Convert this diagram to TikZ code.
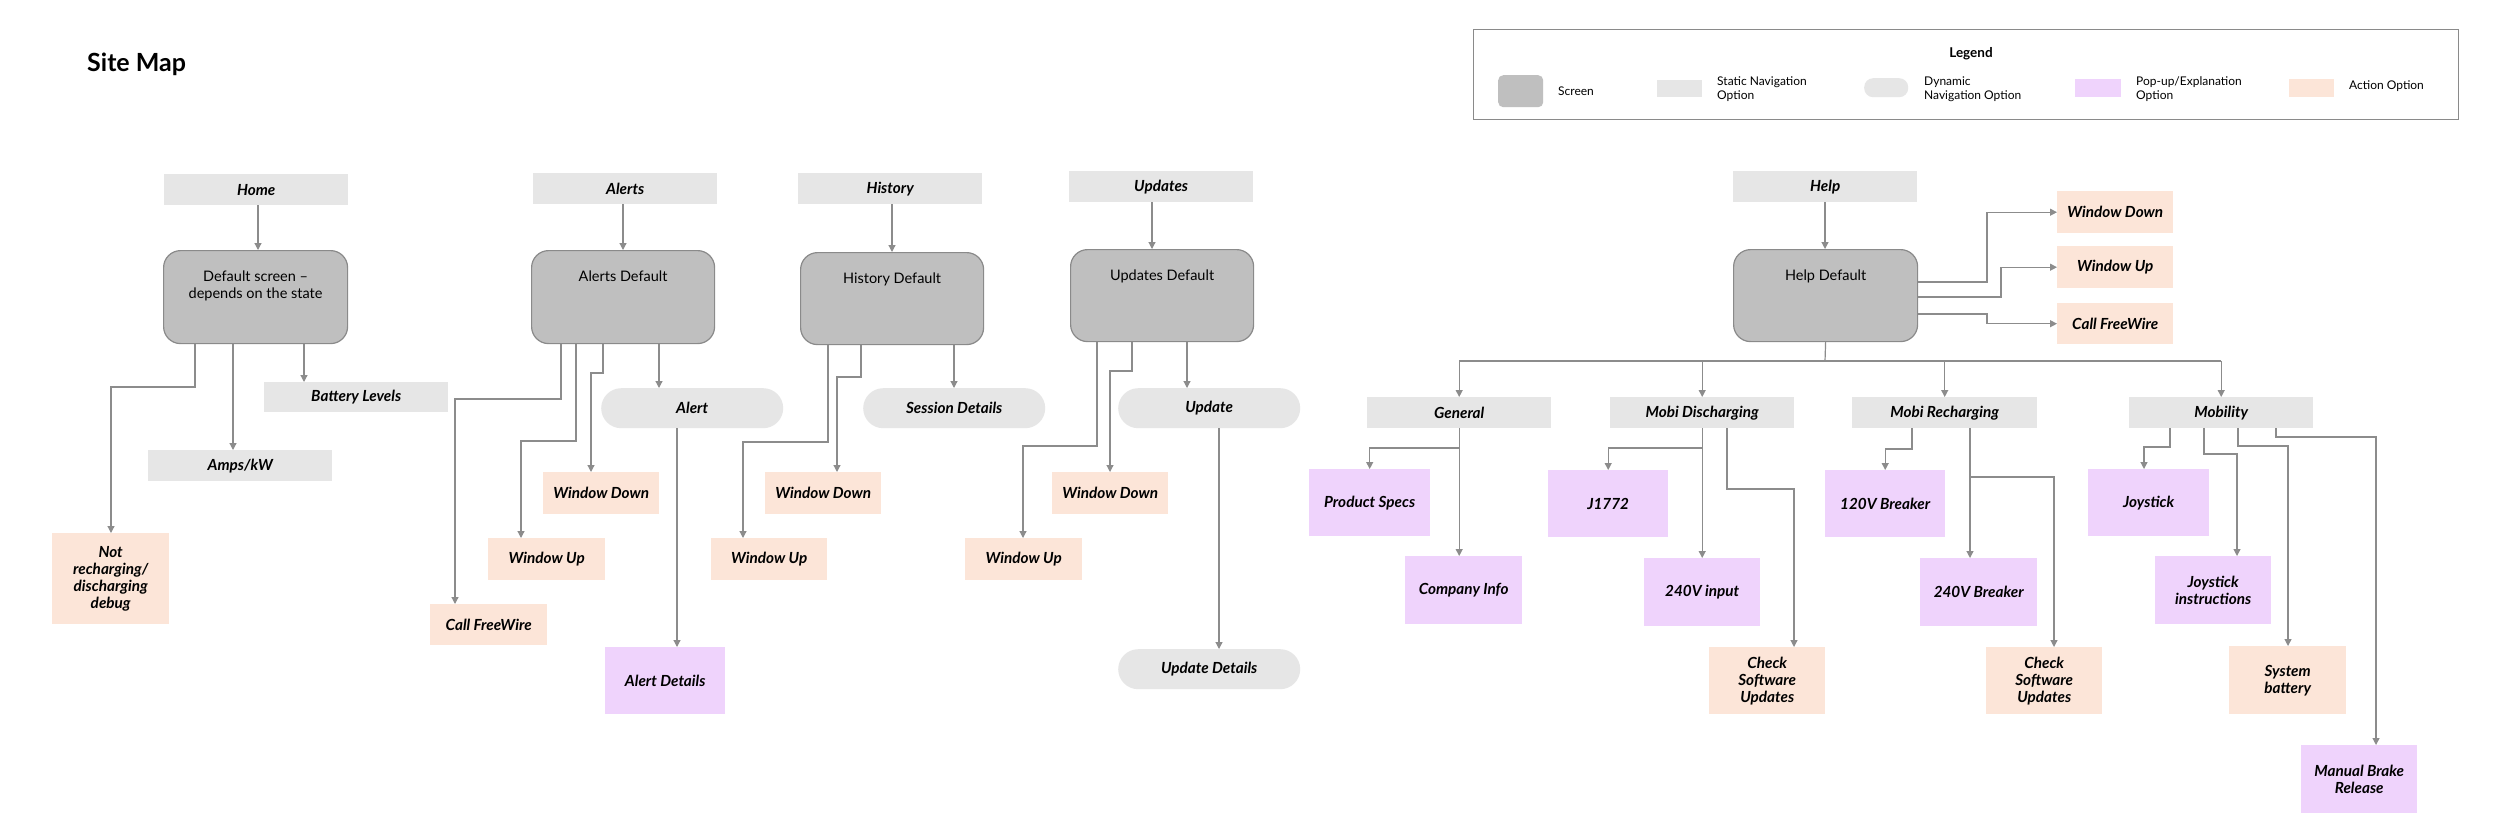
\documentclass[tikz,border=0pt]{standalone}
\usepackage{fontspec}
\setmainfont{Lato}
\usetikzlibrary{arrows.meta,calc}
\definecolor{scrfill}{HTML}{BFBFBF}
\definecolor{scrdraw}{HTML}{8A8A8A}
\definecolor{navfill}{HTML}{E6E6E6}
\definecolor{popfill}{HTML}{EFD3FC}
\definecolor{actfill}{HTML}{FCE5D8}
\definecolor{linec}{HTML}{8C8C8C}
\tikzset{
 sz/.style 2 args={minimum width=#1pt, minimum height=#2pt},
 basebox/.style={anchor=north west, inner sep=0pt, align=center, font=\fontsize{15.3}{17}\selectfont\bfseries\itshape},
 nav/.style={basebox, fill=navfill},
 dyn/.style={basebox, fill=navfill, rounded corners=20pt},
 pop/.style={basebox, fill=popfill},
 act/.style={basebox, fill=actfill},
 screen/.style={anchor=north west, inner sep=0pt, fill=scrfill, draw=scrdraw, line width=1.2pt, rounded corners=17pt},
 scrlab/.style={anchor=north, yshift=-21pt, inner sep=0pt, align=center, font=\fontsize{14.5}{16.5}\selectfont},
 conn/.style={draw=linec, line width=1.2pt, -{Triangle[length=7pt,width=7pt]}},
 wire/.style={draw=linec, line width=1.2pt},
 lgtext/.style={anchor=west, inner sep=0pt, align=left, font=\fontsize{12}{14.5}\selectfont},
}
\begin{document}
\begin{tikzpicture}[x=1pt,y=-1pt]
\useasboundingbox[fill=white] (0,0) rectangle (2500,833);

% title
\node[anchor=base west, inner sep=0pt, font=\fontsize{25}{28}\selectfont\bfseries] (title) at (87,71) {Site Map};

% legend
\node[anchor=north west, inner sep=0pt, sz={985}{90}, draw=scrdraw, line width=1.3pt] (legend) at (1473,29) {};
\node[inner sep=0pt, font=\fontsize{13.5}{15}\selectfont\bfseries] (lgtitle) at (1971,54) {Legend};
\node[anchor=north west, inner sep=0pt, sz={45}{32}, fill=scrfill, rounded corners=5pt] (lgscr) at (1498,75) {};
\node[lgtext] (lgscrt) at (1558,91) {Screen};
\node[anchor=north west, inner sep=0pt, sz={45}{17}, fill=navfill] (lgnav) at (1657,80) {};
\node[lgtext] (lgnavt) at (1717,89) {Static Navigation\\Option};
\node[anchor=north west, inner sep=0pt, sz={44}{19}, fill=navfill, rounded corners=9pt] (lgdyn) at (1864,78) {};
\node[lgtext] (lgdynt) at (1924,89) {Dynamic\\Navigation Option};
\node[anchor=north west, inner sep=0pt, sz={46}{18}, fill=popfill] (lgpop) at (2075,79) {};
\node[lgtext] (lgpopt) at (2136,89) {Pop-up/Explanation\\Option};
\node[anchor=north west, inner sep=0pt, sz={45}{18}, fill=actfill] (lgact) at (2289,79) {};
\node[lgtext] (lgactt) at (2349,86) {Action Option};

% ---------------- Home ----------------
\node[nav, sz={184}{31}] (home) at (164,174) {Home};
\node[screen, sz={184}{93}, label={[scrlab]north:Default screen --\\depends on the state}] (homeDef) at (163,250) {};
\node[nav, sz={184}{30}] (batt) at (264,382) {Battery Levels};
\node[nav, sz={184}{31}] (amps) at (148,450) {Amps/kW};
\node[act, sz={117}{91}] (notre) at (52,533) {Not\\recharging/\\discharging\\debug};

\draw[conn] (home.south -| 258,0) -- (homeDef.north -| 258,0);
\draw[conn] (homeDef.south -| 195,0) |- (111,387) -- (notre.north -| 111,0);
\draw[conn] (homeDef.south -| 233,0) -- (amps.north -| 233,0);
\draw[conn] (homeDef.south -| 304,0) -- (batt.north -| 304,0);

% ---------------- Alerts ----------------
\node[nav, sz={184}{31}] (alerts) at (533,173) {Alerts};
\node[screen, sz={183}{93}, label={[scrlab]north:Alerts Default}] (alertsDef) at (531,250) {};
\node[dyn, sz={182}{40}] (alert) at (601,388) {Alert};
\node[act, sz={116}{42}] (aWD) at (543,472) {Window Down};
\node[act, sz={117}{42}] (aWU) at (488,538) {Window Up};
\node[act, sz={117}{41}] (aCF) at (430,604) {Call FreeWire};
\node[pop, sz={120}{67}] (aDet) at (605,647) {Alert Details};

\draw[conn] (alerts.south -| 623,0) -- (alertsDef.north -| 623,0);
\draw[conn] (alertsDef.south -| 561,0) |- (455,399) -- (aCF.north -| 455,0);
\draw[conn] (alertsDef.south -| 576,0) |- (521,441) -- (aWU.north -| 521,0);
\draw[conn] (alertsDef.south -| 603,0) |- (591,373) -- (aWD.north -| 591,0);
\draw[conn] (alertsDef.south -| 659,0) -- (alert.north -| 659,0);
\draw[conn] (alert.south -| 677,0) -- (aDet.north -| 677,0);

% ---------------- History ----------------
\node[nav, sz={184}{31}] (hist) at (798,173) {History};
\node[screen, sz={183}{92}, label={[scrlab]north:History Default}] (histDef) at (800,252) {};
\node[dyn, sz={182}{40}] (sess) at (863,388) {Session Details};
\node[act, sz={116}{42}] (hWD) at (765,472) {Window Down};
\node[act, sz={116}{42}] (hWU) at (711,538) {Window Up};

\draw[conn] (hist.south -| 892,0) -- (histDef.north -| 892,0);
\draw[conn] (histDef.south -| 828,0) |- (743,442) -- (hWU.north -| 743,0);
\draw[conn] (histDef.south -| 861,0) |- (837,377) -- (hWD.north -| 837,0);
\draw[conn] (histDef.south -| 954,0) -- (sess.north -| 954,0);

% ---------------- Updates ----------------
\node[nav, sz={184}{31}] (upd) at (1069,171) {Updates};
\node[screen, sz={183}{92}, label={[scrlab]north:Updates Default}] (updDef) at (1070,249) {};
\node[dyn, sz={182}{40}] (update) at (1118,388) {Update};
\node[dyn, sz={182}{40}] (updDet) at (1118,649) {Update Details};
\node[act, sz={116}{42}] (uWD) at (1052,472) {Window Down};
\node[act, sz={117}{42}] (uWU) at (965,538) {Window Up};

\draw[conn] (upd.south -| 1152,0) -- (updDef.north -| 1152,0);
\draw[conn] (updDef.south -| 1097,0) |- (1023,446) -- (uWU.north -| 1023,0);
\draw[conn] (updDef.south -| 1132,0) |- (1110,371) -- (uWD.north -| 1110,0);
\draw[conn] (updDef.south -| 1187,0) -- (update.north -| 1187,0);
\draw[conn] (update.south -| 1219,0) -- (updDet.north -| 1219,0);

% ---------------- Help ----------------
\node[nav, sz={184}{31}] (help) at (1733,171) {Help};
\node[screen, sz={184}{92}, label={[scrlab]north:Help Default}] (helpDef) at (1733,249) {};
\node[act, sz={116}{42}] (hpWD) at (2057,191) {Window Down};
\node[act, sz={116}{42}] (hpWU) at (2057,246) {Window Up};
\node[act, sz={116}{41}] (hpCF) at (2057,303) {Call FreeWire};

\draw[conn] (help.south -| 1825,0) -- (helpDef.north -| 1825,0);
\draw[conn] (helpDef.east |- 0,282) -- (1987,282) |- (hpWD);
\draw[conn] (helpDef.east |- 0,297) -- (2001,297) |- (hpWU);
\draw[conn] (helpDef.east |- 0,314) -- (1987,314) |- (hpCF);

\node[nav, sz={184}{31}] (gen) at (1367,397) {General};
\node[nav, sz={184}{31}] (mdis) at (1610,397) {Mobi Discharging};
\node[nav, sz={185}{31}] (mrec) at (1852,397) {Mobi Recharging};
\node[nav, sz={184}{31}] (mob) at (2129,397) {Mobility};

\coordinate (bus) at (1825,361);
\draw[wire] (helpDef.south) -- (bus);
\draw[wire] (bus -| gen.north) -- (bus -| mob.north);
\draw[conn] (bus -| gen.north) -- (gen.north);
\draw[conn] (bus -| mdis.north) -- (mdis.north);
\draw[conn] (bus -| mrec.north) -- (mrec.north);
\draw[conn] (bus -| mob.north) -- (mob.north);

\node[pop, sz={121}{67}] (pspec) at (1309,469) {Product Specs};
\node[pop, sz={117}{68}] (cinfo) at (1405,556) {Company Info};
\node[pop, sz={120}{67}] (j1772) at (1548,470) {J1772};
\node[pop, sz={116}{68}] (v240in) at (1644,558) {240V input};
\node[act, sz={116}{67}] (csu1) at (1709,647) {Check\\Software\\Updates};
\node[pop, sz={120}{67}] (b120) at (1825,470) {120V Breaker};
\node[pop, sz={117}{68}] (b240) at (1920,558) {240V Breaker};
\node[act, sz={116}{67}] (csu2) at (1986,647) {Check\\Software\\Updates};
\node[pop, sz={121}{67}] (joy) at (2088,469) {Joystick};
\node[pop, sz={116}{68}] (joyi) at (2155,556) {Joystick\\instructions};
\node[act, sz={117}{68}] (sysb) at (2229,646) {System\\battery};
\node[pop, sz={116}{68}] (mbr) at (2301,745) {Manual Brake\\Release};

\draw[conn] (gen.south) -- (gen.south |- 0,448) -| (pspec);
\draw[conn] (gen.south) -- (gen.south |- cinfo.north);
\draw[conn] (mdis.south) -- (mdis.south |- 0,448) -| (j1772);
\draw[conn] (mdis.south) -- (mdis.south |- v240in.north);
\draw[conn] (mdis.south -| 1727,0) |- (1794,489) -- (csu1.north -| 1794,0);
\draw[conn] (mrec.south -| 1912,0) -- (1912,449) -| (b120);
\draw[conn] (mrec.south -| 1970,0) -- (b240.north -| 1970,0);
\draw[conn] (mrec.south -| 1970,0) |- (2054,477) -- (csu2.north -| 2054,0);
\draw[conn] (mob.south -| 2170,0) |- (2144,447) -- (joy.north -| 2144,0);
\draw[conn] (mob.south -| 2204,0) |- (2237,454) -- (joyi.north -| 2237,0);
\draw[conn] (mob.south -| 2238,0) |- (2288,446) -- (sysb.north -| 2288,0);
\draw[conn] (mob.south -| 2276,0) |- (2376,437) -- (mbr.north -| 2376,0);
\end{tikzpicture}
\end{document}
